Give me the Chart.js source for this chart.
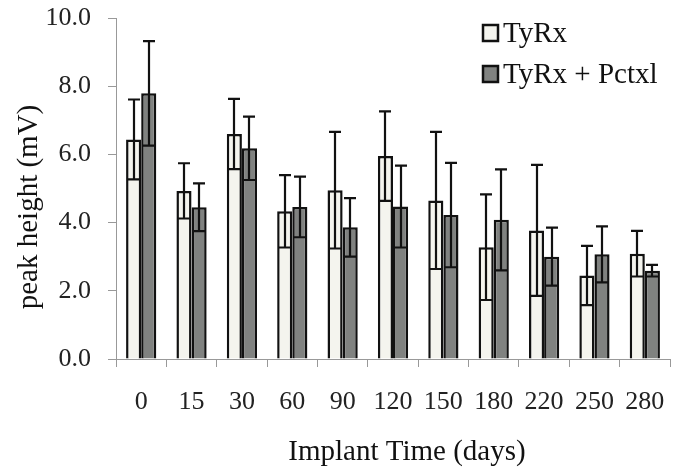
<!DOCTYPE html>
<html lang="en">
<head>
    <meta charset="UTF-8">
    <title>Peak height vs implant time</title>
    <style>
        body {
            margin: 0;
            padding: 0;
            background: #fff;
        }

        #wrap {
            width: 673px;
            height: 470px;
        }
    </style>
</head>
<body>
    <div id="wrap"><canvas id="plot" width="673" height="470"></canvas></div>
    <script src="https://cdn.jsdelivr.net/npm/chart.js"></script>
    <script>
        const days = ['0', '15', '30', '60', '90', '120', '150', '180', '220', '250', '280'];
        const tyrxMean = [6.44, 4.93, 6.60, 4.33, 4.95, 5.95, 4.65, 3.28, 3.77, 2.45, 3.09];
        const tyrxSd = [1.17, 0.81, 1.03, 1.06, 1.71, 1.31, 2.01, 1.55, 1.92, 0.87, 0.67];
        const pctxlMean = [7.79, 4.45, 6.18, 4.46, 3.86, 4.47, 4.22, 4.08, 3.00, 3.07, 2.59];
        const pctxlSd = [1.53, 0.70, 0.93, 0.89, 0.86, 1.20, 1.53, 1.48, 0.85, 0.82, 0.17];

        const serif = '"Liberation Serif", "Times New Roman", serif';

        // whiskers: line from mean-sd to mean+sd, small cap on top, full-width cap at bottom
        const errorBars = {
            id: 'errorBars',
            afterDatasetsDraw(chart) {
                const ctx = chart.ctx;
                const y = chart.scales.y;
                const sds = [tyrxSd, pctxlSd];
                ctx.save();
                ctx.strokeStyle = '#111';
                ctx.lineWidth = 2.2;
                chart.data.datasets.forEach((ds, di) => {
                    chart.getDatasetMeta(di).data.forEach((bar, i) => {
                        const m = ds.data[i];
                        const sd = sds[di][i];
                        const top = y.getPixelForValue(m + sd);
                        const low = y.getPixelForValue(m - sd);
                        const x = Math.round(bar.x);
                        const half = bar.width / 2 - 1;
                        ctx.beginPath();
                        ctx.moveTo(x, top);
                        ctx.lineTo(x, low);
                        ctx.moveTo(x - 6, top);
                        ctx.lineTo(x + 6, top);
                        ctx.moveTo(bar.x - half, low);
                        ctx.lineTo(bar.x + half, low);
                        ctx.stroke();
                    });
                });
                ctx.restore();
            }
        };

        // legend box inside plot + axis titles
        const extras = {
            id: 'extras',
            afterDraw(chart) {
                const ctx = chart.ctx;
                ctx.save();
                ctx.font = '29px ' + serif;
                ctx.textBaseline = 'middle';
                chart.data.datasets.forEach((ds, i) => {
                    const cy = 33 + i * 41;
                    ctx.fillStyle = ds.backgroundColor;
                    ctx.fillRect(483, cy - 8, 15, 16);
                    ctx.strokeStyle = '#111';
                    ctx.lineWidth = 2.5;
                    ctx.strokeRect(483, cy - 8, 15, 16);
                    ctx.fillStyle = '#111';
                    ctx.textAlign = 'left';
                    ctx.fillText(ds.label, 503, cy + 1);
                });

                ctx.textAlign = 'center';
                ctx.fillText('Implant Time (days)', 407, 452);
                ctx.translate(29, 207);
                ctx.rotate(-Math.PI / 2);
                ctx.fillText('peak height (mV)', 0, 0);
                ctx.restore();
            }
        };

        new Chart(document.getElementById('plot'), {
            type: 'bar',
            data: {
                labels: days,
                datasets: [
                    {
                        label: 'TyRx',
                        data: tyrxMean,
                        backgroundColor: '#f4f4ee',
                        borderColor: '#111',
                        borderWidth: 2.5
                    },
                    {
                        label: 'TyRx + Pctxl',
                        data: pctxlMean,
                        backgroundColor: '#808280',
                        borderColor: '#111',
                        borderWidth: 2.5
                    }
                ]
            },
            options: {
                responsive: false,
                animation: false,
                layout: { padding: { top: 18, right: 3, left: 0, bottom: 0 } },
                datasets: {
                    bar: { categoryPercentage: 0.6, barPercentage: 1.0 }
                },
                plugins: {
                    legend: { display: false },
                    tooltip: { enabled: false }
                },
                scales: {
                    x: {
                        afterFit: (s) => {
                            s.height = 111;
                            s.paddingLeft = 0;
                            s.paddingRight = 0;
                        },
                        border: { color: '#999', width: 1 },
                        grid: { drawOnChartArea: false, tickLength: 8, color: '#999', offset: true },
                        ticks: {
                            color: '#222',
                            padding: 20,
                            font: { family: serif, size: 26 },
                            maxRotation: 0
                        }
                    },
                    y: {
                        min: 0,
                        max: 10,
                        afterFit: (s) => {
                            s.width = 116;
                            s.paddingTop = 0;
                            s.paddingBottom = 0;
                        },
                        border: { color: '#999', width: 1 },
                        grid: { drawOnChartArea: false, tickLength: 8, color: '#999' },
                        ticks: {
                            stepSize: 2,
                            color: '#222',
                            padding: 17,
                            font: { family: serif, size: 26 },
                            callback: (v) => v.toFixed(1)
                        }
                    }
                }
            },
            plugins: [errorBars, extras]
        });
    </script>
</body>
</html>
